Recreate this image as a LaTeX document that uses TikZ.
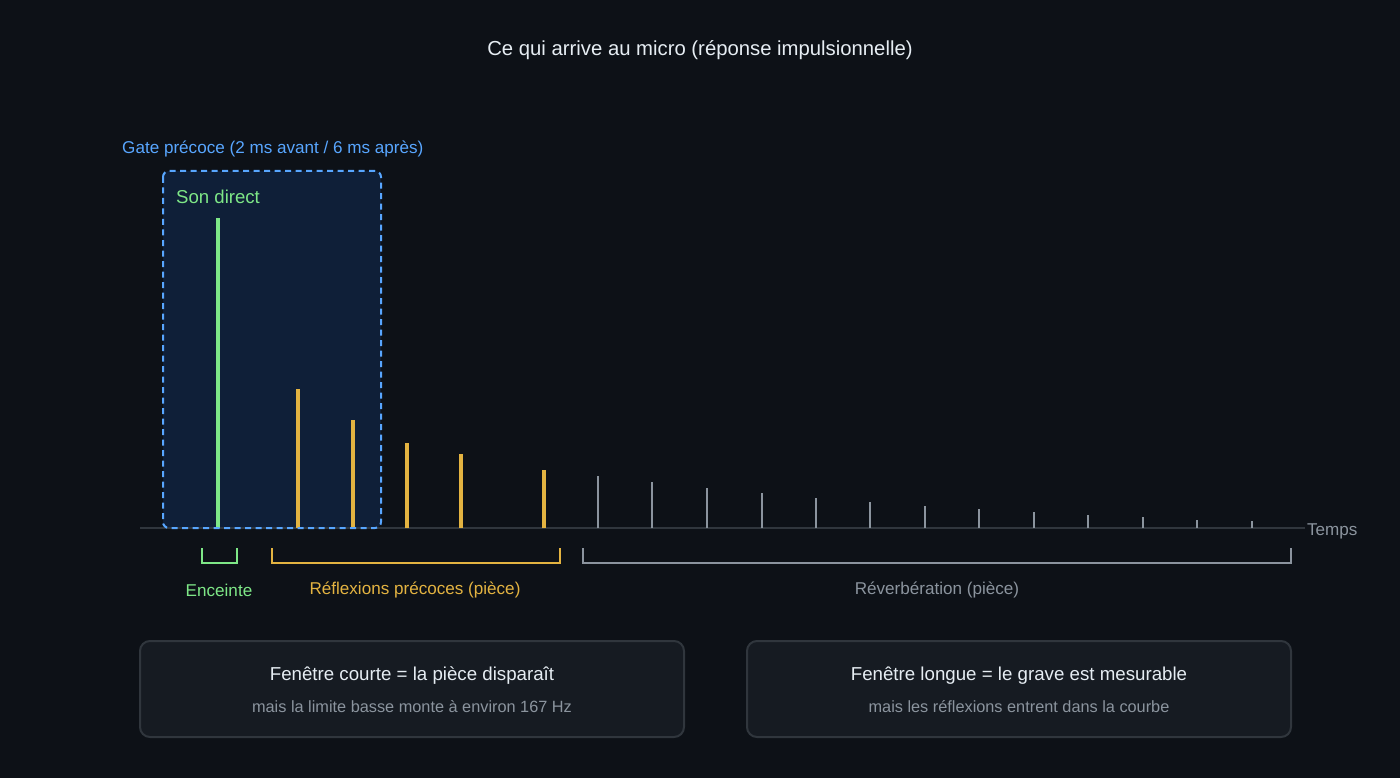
\documentclass[tikz,border=0pt]{standalone}
\usepackage{fontspec}
\setmainfont{Liberation Sans}
\definecolor{bg}{HTML}{0D1117}
\definecolor{txt}{HTML}{E6EDF3}
\definecolor{gblue}{HTML}{58A6FF}
\definecolor{gfill}{HTML}{0F1F38}
\definecolor{ggreen}{HTML}{7EE787}
\definecolor{gyellow}{HTML}{E3B341}
\definecolor{ggray}{HTML}{8B949E}
\definecolor{axisc}{HTML}{30363D}
\definecolor{boxfill}{HTML}{161B22}
\definecolor{boxline}{HTML}{30363D}
\tikzset{
  lbl/.style={inner sep=0pt, outer sep=0pt, font=\fontsize{17.1}{20}\selectfont},
  spikeG/.style={ggreen, line width=4pt},
  spikeY/.style={gyellow, line width=3.3pt},
  spikeR/.style={ggray, line width=2.8pt},
  brk/.style={line width=2.2pt, line join=miter},
  infobox/.style={draw=boxline, fill=boxfill, line width=2pt, rounded corners=10pt,
    minimum width=544pt, minimum height=96pt, inner sep=0pt},
  boxtitle/.style={inner sep=0pt, text=txt, font=\fontsize{18.7}{22}\selectfont},
  boxsub/.style={inner sep=0pt, text=ggray, font=\fontsize{16.3}{19}\selectfont},
}
\begin{document}
\begin{tikzpicture}[x=1pt,y=-1pt]
\fill[bg] (0,0) rectangle (1400,778);
\useasboundingbox (0,0) rectangle (1400,778);

\node[inner sep=0pt, text=txt, font=\fontsize{20.3}{24}\selectfont] (title) at (700,50.5) {Ce qui arrive au micro (réponse impulsionnelle)};

% gate region
\fill[gfill, rounded corners=6pt] (163,171) rectangle (381,528);
\node[inner sep=0pt, anchor=west, text=gblue, font=\fontsize{17.1}{20}\selectfont] (gatelbl) at (122,148.5) {Gate précoce (2 ms avant / 6 ms après)};
\node[inner sep=0pt, anchor=west, text=ggreen, font=\fontsize{18.6}{22}\selectfont] (sondirect) at (176,197) {Son direct};

% axis
\draw[axisc, line width=2pt] (140,528) -- (1305,528);
\node[lbl, anchor=west, text=ggray] (temps) at (1307,531) {Temps};

% spikes
\draw[spikeG] (218,528) -- (218,218);
\foreach \x/\t in {298/389, 353/420, 407/443, 461/454, 544/470}
  \draw[spikeY] (\x,528) -- (\x,\t);
\foreach \x/\t in {598/476, 652/482, 707/488, 762/493, 816/498, 870/502, 925/506, 979/509, 1034/512, 1088/515, 1143/516.5, 1197/519.5, 1252/521}
  \draw[spikeR] (\x,528) -- (\x,\t);

% gate border
\draw[gblue, line width=2pt, dash pattern=on 6pt off 4.5pt, rounded corners=6pt] (163,171) rectangle (381,528);

% brackets
\draw[brk, ggreen] (202,548) |- (237,563) -- (237,548);
\draw[brk, gyellow] (272,548) |- (560,563) -- (560,548);
\draw[brk, ggray] (583,548) |- (1291,563) -- (1291,548);
\node[lbl, text=ggreen] (enc) at (219,590) {Enceinte};
\node[lbl, text=gyellow] (refl) at (415,590) {Réflexions précoces (pièce)};
\node[lbl, text=ggray] (rev) at (937,590) {Réverbération (pièce)};

% info boxes
\node[infobox] (boxL) at (412,689) {};
\node[infobox] (boxR) at (1019,689) {};
\node[boxtitle] (tL) at (412,675.5) {Fenêtre courte = la pièce disparaît};
\node[boxsub] (sL) at (412,707) {mais la limite basse monte à environ 167 Hz};
\node[boxtitle] (tR) at (1019,675.5) {Fenêtre longue = le grave est mesurable};
\node[boxsub] (sR) at (1019,707) {mais les réflexions entrent dans la courbe};
\end{tikzpicture}
\end{document}
